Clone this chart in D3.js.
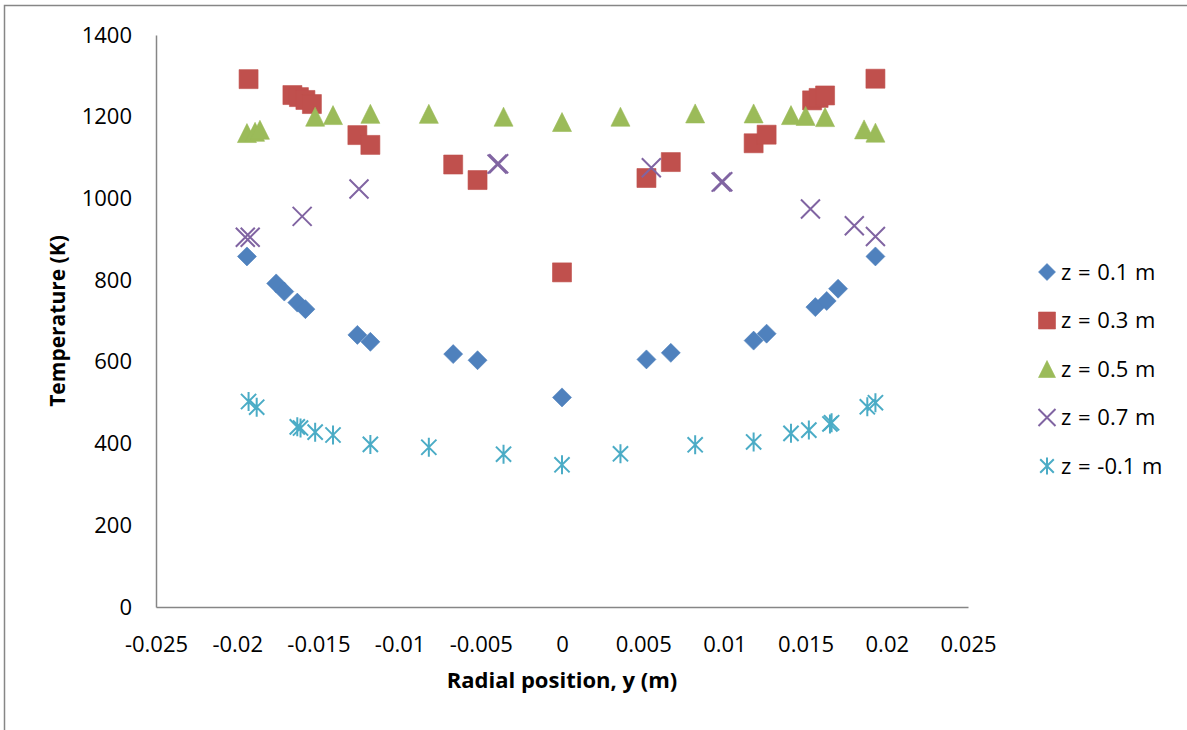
<!DOCTYPE html>
<html>
<head>
<meta charset="utf-8">
<script src="https://cdn.jsdelivr.net/npm/d3@7"></script>
<style>
  body { margin: 0; background: #fff; }
  svg text { font-family: 'Open Sans', 'Liberation Sans', sans-serif; fill: #000; }
</style>
</head>
<body>
<div id="chart"></div>
<script>
// radial position y (m) and temperature (K)
const xTicks = [-0.025, -0.02, -0.015, -0.01, -0.005, 0, 0.005, 0.01, 0.015, 0.02, 0.025];
const yTicks = [0, 200, 400, 600, 800, 1000, 1200, 1400];

const z01x = [-0.0194, -0.0176, -0.0171, -0.0163, -0.0158, -0.0126, -0.0118, -0.0067, -0.0052, 0,
  0.0052, 0.0067, 0.0118, 0.0126, 0.0156, 0.0163, 0.0170, 0.0193];
const z01y = [858, 792, 772, 745, 729, 666, 649, 619, 604, 513,
  606, 622, 652, 669, 734, 749, 779, 858];

const z03x = [-0.0193, -0.0166, -0.0162, -0.0158, -0.0154, -0.0126, -0.0118, -0.0067, -0.0052, 0,
  0.0052, 0.0067, 0.0118, 0.0126, 0.0154, 0.0158, 0.0162, 0.0193];
const z03y = [1292, 1253, 1248, 1241, 1231, 1155, 1131, 1083, 1045, 819,
  1050, 1089, 1135, 1156, 1240, 1246, 1252, 1293];

const z05x = [-0.0194, -0.0189, -0.0186, -0.0152, -0.0141, -0.0118, -0.0082, -0.0036, 0,
  0.0036, 0.0082, 0.0118, 0.0141, 0.0150, 0.0162, 0.0186, 0.0193];
const z05y = [1160, 1163, 1168, 1200, 1204, 1207, 1207, 1200, 1187,
  1200, 1208, 1208, 1204, 1202, 1199, 1169, 1161];

const z07x = [-0.0195, -0.0192, -0.0160, -0.0125, -0.0040, -0.0039,
  0.0055, 0.0098, 0.0099, 0.0153, 0.0180, 0.0193];
const z07y = [905, 905, 956, 1023, 1084, 1085,
  1075, 1040, 1041, 974, 933, 907];

const zm01x = [-0.0193, -0.0188, -0.0163, -0.0161, -0.0152, -0.0141, -0.0118, -0.0082, -0.0036, 0,
  0.0036, 0.0082, 0.0118, 0.0141, 0.0152, 0.0165, 0.0166, 0.0188, 0.0193];
const zm01y = [503, 489, 441, 438, 428, 421, 398, 391, 374, 348,
  375, 397, 404, 425, 433, 448, 451, 490, 500];

const seriesNames = ['z = 0.1 m', 'z = 0.3 m', 'z = 0.5 m', 'z = 0.7 m', 'z = -0.1 m'];
const seriesColors = ['#4F81BD', '#C0504D', '#9BBB59', '#8064A2', '#4BACC6'];
const seriesShapes = ['diamond', 'square', 'triangle', 'x', 'star'];
const seriesX = [z01x, z03x, z05x, z07x, zm01x];
const seriesY = [z01y, z03y, z05y, z07y, zm01y];

const width = 1187, height = 730;
const margin = { top: 35, right: 219, bottom: 123, left: 156 };

function markerPath(shape, s) {
  const h = s / 2;
  switch (shape) {
    case 'diamond': return `M0,${-h}L${h},0L0,${h}L${-h},0Z`;
    case 'square': return `M${-h},${-h}H${h}V${h}H${-h}Z`;
    case 'triangle': return `M0,${-h}L${h},${h}L${-h},${h}Z`;
    case 'x': return `M${-h},${-h}L${h},${h}M${h},${-h}L${-h},${h}`;
    case 'star': {
      const d = h * 0.8;
      return `M${-d},${-d}L${d},${d}M${d},${-d}L${-d},${d}M0,${-h}V${h}`;
    }
  }
}

function styleMarker(sel, i) {
  const open = seriesShapes[i] === 'x' || seriesShapes[i] === 'star';
  sel
    .attr('fill', open ? 'none' : seriesColors[i])
    .attr('stroke', seriesColors[i])
    .attr('stroke-width', open ? 2 : 1)
    .attr('stroke-opacity', open ? 1 : 0.6);
}

const svg = d3.select('#chart')
  .append('svg')
    .attr('width', width)
    .attr('height', height);

// chart area border
svg.append('rect')
  .attr('x', 4.5).attr('y', 5.5)
  .attr('width', width + 20).attr('height', height + 20)
  .attr('fill', 'none')
  .attr('stroke', '#868686')
  .attr('stroke-width', 1.5);

const scaleX = d3.scaleLinear()
  .domain([-0.025, 0.025])
  .range([margin.left, width - margin.right]);

const scaleY = d3.scaleLinear()
  .domain([0, 1400])
  .range([height - margin.bottom, margin.top]);

const xAxis = d3.axisBottom(scaleX)
  .tickValues(xTicks)
  .tickSize(0)
  .tickPadding(29)
  .tickFormat(d => String(+d.toFixed(3)));

const yAxis = d3.axisLeft(scaleY)
  .tickValues(yTicks)
  .tickSize(0)
  .tickPadding(24)
  .tickFormat(d => String(d));

const gx = svg.append('g')
  .attr('class', 'chart__axis chart__axis--x')
  .attr('transform', `translate(0, ${scaleY(0)})`)
  .call(xAxis);

const gy = svg.append('g')
  .attr('class', 'chart__axis chart__axis--y')
  .attr('transform', `translate(${scaleX(-0.025)}, 0)`)
  .call(yAxis);

[gx, gy].forEach(g => {
  g.select('.domain').attr('stroke', '#868686').attr('stroke-width', 1.5);
  g.selectAll('text').attr('font-size', 22).attr('fill', '#000');
});

// axis titles
svg.append('text')
  .attr('x', scaleX(0))
  .attr('y', 688)
  .attr('text-anchor', 'middle')
  .attr('font-size', 22)
  .attr('font-weight', 'bold')
  .text('Radial position, y (m)');

svg.append('text')
  .attr('transform', `translate(65, ${(scaleY(0) + scaleY(1400)) / 2}) rotate(-90)`)
  .attr('text-anchor', 'middle')
  .attr('font-size', 21)
  .attr('font-weight', 'bold')
  .text('Temperature (K)');

// markers
seriesX.forEach((xs, i) => {
  const data = xs.map((x, j) => ({ x, y: seriesY[i][j] }));
  svg.append('g')
    .attr('class', 'chart__series')
    .selectAll('path')
    .data(data)
    .enter()
    .append('path')
      .attr('transform', d => `translate(${scaleX(d.x)}, ${scaleY(d.y)})`)
      .attr('d', markerPath(seriesShapes[i], 19))
      .call(styleMarker, i);
});

// legend
const legend = svg.append('g')
  .attr('class', 'chart__legend')
  .attr('transform', 'translate(1047, 272)');

seriesNames.forEach((name, i) => {
  const item = legend.append('g').attr('transform', `translate(0, ${i * 48.5})`);
  item.append('path')
    .attr('d', markerPath(seriesShapes[i], 17))
    .call(styleMarker, i);
  item.append('text')
    .attr('x', 14)
    .attr('dy', '0.36em')
    .attr('font-size', 22)
    .attr('word-spacing', 1)
    .text(name);
});
</script>
</body>
</html>
